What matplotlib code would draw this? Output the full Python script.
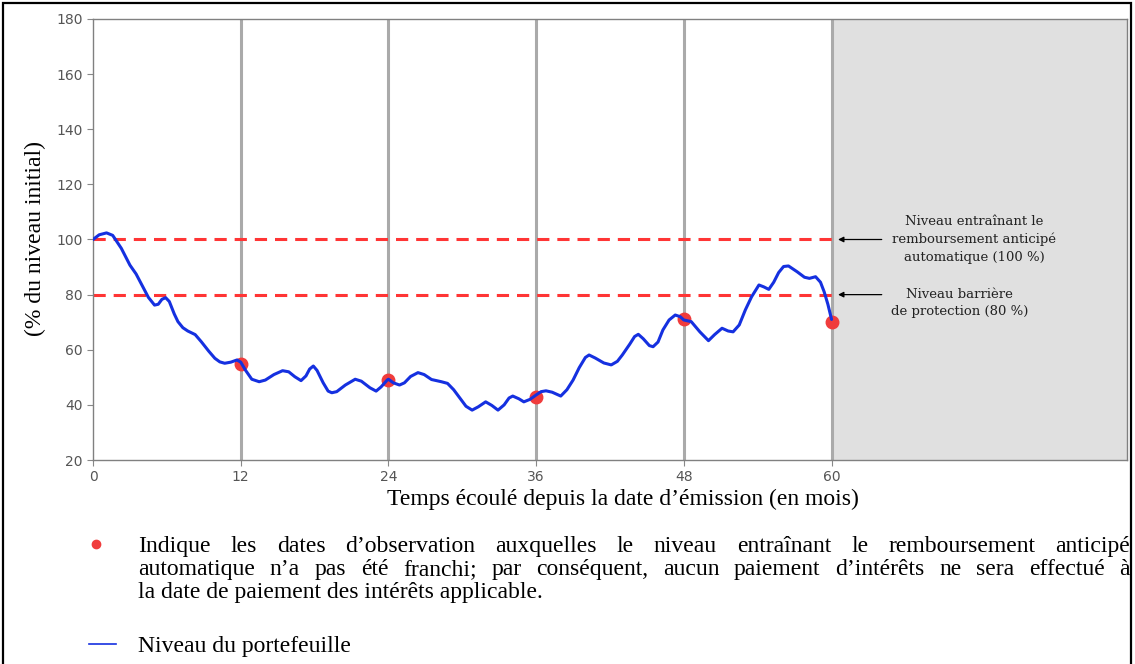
import numpy as np
import matplotlib
matplotlib.use('Agg')
import matplotlib.pyplot as plt
from matplotlib.lines import Line2D
from matplotlib.patches import Rectangle

# Data
months = [0, 0.5, 1.1, 1.6, 2.3, 3.0, 3.5, 3.9, 4.5, 5.0, 5.3, 5.6, 5.9, 6.2, 6.6, 6.9, 7.3, 7.7,
          8.3, 8.8, 9.4, 9.9, 10.3, 10.7, 11.2, 11.7, 12.0,
          12.4, 12.9, 13.5, 14.0, 14.7, 15.4, 15.9, 16.4, 16.9, 17.3, 17.6, 17.9, 18.2, 18.7,
          19.1, 19.4, 19.8, 20.5, 21.3, 21.8, 22.5, 23.0, 23.4, 23.9,
          24.0, 24.4, 24.9, 25.3, 25.8, 26.4, 26.9, 27.5, 28.3, 28.8, 29.3, 29.8, 30.3, 30.8,
          31.3, 31.9, 32.4, 32.9, 33.4, 33.8, 34.1, 34.6, 35.0, 35.5, 36.0,
          36.4, 36.8, 37.3, 38.0, 38.5, 39.0, 39.5, 40.0, 40.3, 40.8, 41.5, 42.1, 42.6, 43.0,
          43.6, 44.0, 44.3, 44.7, 45.2, 45.5, 45.9, 46.3, 46.8, 47.3, 47.7, 48.0,
          48.6, 49.3, 50.0, 50.5, 51.1, 51.6, 52.0, 52.5, 53.0, 53.5, 54.1, 54.5, 54.9, 55.3,
          55.7, 56.1, 56.5, 57.2, 57.8, 58.2, 58.7, 59.1, 59.4, 59.7, 60.0]
level = [100, 101.7, 102.4, 101.5, 96.8, 90.7, 87.5, 84.1, 79.0, 76.2, 76.5, 78.3, 78.9, 77.5, 73.0, 70.2, 68.0, 66.8,
         65.5, 62.9, 59.5, 56.9, 55.6, 55.1, 55.5, 56.3, 55.5,
         52.5, 49.3, 48.4, 49.0, 51.0, 52.4, 52.0, 50.2, 48.8, 50.5, 53.0, 54.1, 52.5, 48.0,
         45.0, 44.4, 44.8, 47.2, 49.3, 48.6, 46.2, 45.0, 46.5, 49.0,
         49.3, 48.0, 47.2, 48.0, 50.3, 51.7, 51.0, 49.2, 48.4, 47.8, 45.5, 42.5, 39.5, 38.1,
         39.3, 41.1, 39.8, 38.1, 40.0, 42.5, 43.2, 42.2, 41.1, 42.0, 43.6,
         44.8, 45.1, 44.6, 43.2, 45.5, 49.0, 53.5, 57.2, 58.1, 57.0, 55.2, 54.5, 55.8, 58.1,
         62.0, 64.8, 65.6, 64.0, 61.5, 61.1, 62.8, 67.2, 70.8, 72.6, 72.0, 70.8,
         70.2, 66.5, 63.3, 65.5, 67.8, 66.8, 66.5, 69.0, 74.5, 79.2, 83.5, 82.8, 81.9, 84.5,
         88.0, 90.2, 90.4, 88.3, 86.3, 85.9, 86.5, 84.5, 81.0, 76.5, 71.0]
obs_months = [12, 24, 36, 48, 60]
obs_level = [55, 49, 43, 71, 70]
thresholds = [100, 80]
x_ticks = [0, 12, 24, 36, 48, 60]
y_ticks = [20, 40, 60, 80, 100, 120, 140, 160, 180]

notes = ['Niveau entraînant le\nremboursement anticipé\nautomatique (100 %)',
         'Niveau barrière\nde protection (80 %)']
legend_lines = [
    'Indique les dates d’observation auxquelles le niveau entraînant le remboursement anticipé',
    'automatique n’a pas été franchi; par conséquent, aucun paiement d’intérêts ne sera effectué à',
    'la date de paiement des intérêts applicable.',
]
legend_line_label = 'Niveau du portefeuille'

W, H = 1135, 664
fig = plt.figure(figsize=(W / 100, H / 100), dpi=100)
ax = fig.add_axes([93 / W, 1 - 460 / H, (1127 - 93) / W, (460 - 19) / H])

def fx(px):
    return px / W

def fy(py):
    return 1 - py / H

ax.axvspan(60, 84, color='#e0e0e0', zorder=0)
for m in obs_months:
    ax.axvline(m, color='#aaaaaa', lw=2.2, zorder=1)
ax.hlines(thresholds, 0, 60, colors='#ff3535', linestyles=(0, (4, 2.6)), lw=2.2, zorder=2)
ax.plot(obs_months, obs_level, 'o', color='#f03c3c', ms=9, zorder=3)
ax.plot(months, level, color='#1530e0', lw=2.2, zorder=4,
        solid_joinstyle='round', solid_capstyle='round')

ax.set_xlim(0, 84)
ax.set_ylim(20, 180)
ax.set_xticks(x_ticks)
ax.set_yticks(y_ticks)
ax.tick_params(colors='#888888', labelcolor='#555555', labelsize=10, length=4)
for s in ax.spines.values():
    s.set_color('#808080')
    s.set_linewidth(1)

# arrows and notes on the shaded part
ax.annotate('', xy=(60.3, 100), xytext=(64.3, 100),
            arrowprops=dict(arrowstyle='-|>', color='black', lw=0.9, mutation_scale=8))
ax.annotate('', xy=(60.3, 80), xytext=(64.3, 80),
            arrowprops=dict(arrowstyle='-|>', color='black', lw=0.9, mutation_scale=8))
ax.text(71.6, 100, notes[0], ha='center', va='center', family='DejaVu Serif',
        fontsize=9.5, linespacing=1.45, color='#222222')
ax.text(70.4, 76.9, notes[1], ha='center', va='center', family='DejaVu Serif',
        fontsize=9.5, linespacing=1.45, color='#222222')

serif = 'Liberation Serif'
fig.text(fx(35), fy(238), '(% du niveau initial)', rotation=90, ha='center', va='center',
         family=serif, fontsize=17)
fig.text(fx(623), fy(505), 'Temps écoulé depuis la date d’émission (en mois)', ha='center',
         va='baseline', family=serif, fontsize=17)

# legend block, first two lines justified
renderer = fig.canvas.get_renderer()
x0, x1 = 138, 1130
baselines = [552, 575, 598]
for i, line in enumerate(legend_lines):
    if i < 2:
        words = line.split(' ')
        texts = [fig.text(0, fy(baselines[i]), w, family=serif, fontsize=17, va='baseline')
                 for w in words]
        widths = [t.get_window_extent(renderer).width for t in texts]
        gap = (x1 - x0 - sum(widths)) / (len(words) - 1)
        x = x0
        for t, w in zip(texts, widths):
            t.set_x(fx(x))
            x += w + gap
    else:
        fig.text(fx(x0), fy(baselines[i]), line, family=serif, fontsize=17, va='baseline')

fig.add_artist(Line2D([fx(96)], [fy(544)], marker='o', color='#f03c3c', ms=6, lw=0))
fig.add_artist(Line2D([fx(89), fx(116)], [fy(644), fy(644)], color='#1530e0', lw=1.2))
fig.text(fx(x0), fy(652), legend_line_label, family=serif, fontsize=17, va='baseline')

# outer frame (bottom edge falls outside the picture)
fig.add_artist(Rectangle((fx(3), fy(670)), fx(1131) - fx(3), fy(3) - fy(670),
                         transform=fig.transFigure, fill=False, ec='black', lw=1.6,
                         clip_on=False))

fig.savefig('out.png', dpi=100)
